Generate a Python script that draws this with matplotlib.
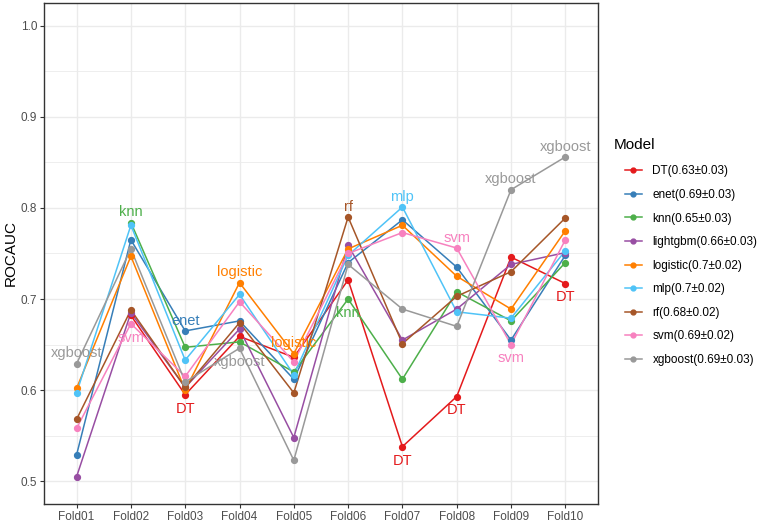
import numpy as np
import pandas as pd
import matplotlib
matplotlib.use("Agg")
import matplotlib.pyplot as plt

plt.rcParams['font.family'] = ['Liberation Sans', 'DejaVu Sans']

folds = ['Fold01', 'Fold02', 'Fold03', 'Fold04', 'Fold05',
         'Fold06', 'Fold07', 'Fold08', 'Fold09', 'Fold10']

models = ['DT', 'enet', 'knn', 'lightgbm', 'logistic', 'mlp', 'rf', 'svm', 'xgboost']

# ROC AUC per fold (Fold01 of DT and knn fall below the 0.5 axis limit)
DT       = [0.413, 0.682, 0.595, 0.659, 0.636, 0.721, 0.538, 0.593, 0.746, 0.717]
enet     = [0.529, 0.765, 0.665, 0.676, 0.612, 0.740, 0.787, 0.735, 0.655, 0.748]
knn      = [0.360, 0.784, 0.647, 0.653, 0.620, 0.700, 0.612, 0.708, 0.676, 0.740]
lightgbm = [0.505, 0.685, 0.603, 0.667, 0.548, 0.759, 0.655, 0.689, 0.738, 0.751]
logistic = [0.602, 0.747, 0.600, 0.718, 0.640, 0.755, 0.781, 0.725, 0.689, 0.775]
mlp      = [0.597, 0.781, 0.633, 0.705, 0.617, 0.748, 0.801, 0.686, 0.679, 0.753]
rf       = [0.568, 0.688, 0.603, 0.674, 0.597, 0.790, 0.651, 0.703, 0.730, 0.789]
svm      = [0.558, 0.673, 0.615, 0.697, 0.631, 0.750, 0.773, 0.756, 0.650, 0.765]
xgboost  = [0.629, 0.755, 0.609, 0.646, 0.523, 0.738, 0.689, 0.670, 0.820, 0.856]

legend_labels = ['DT(0.63±0.03)', 'enet(0.69±0.03)', 'knn(0.65±0.03)',
                 'lightgbm(0.66±0.03)', 'logistic(0.7±0.02)', 'mlp(0.7±0.02)',
                 'rf(0.68±0.02)', 'svm(0.69±0.02)', 'xgboost(0.69±0.03)']

colors = ['#E41A1C', '#377EB8', '#4DAF4A', '#984EA3', '#FF7F00',
          '#4FC3F7', '#A65628', '#F781BF', '#999999']

# folds whose lowest-model label is not shown
hidden_low = ['Fold05']

df = pd.DataFrame([DT, enet, knn, lightgbm, logistic, mlp, rf, svm, xgboost],
                  index=models, columns=folds)

ylo, yhi = 0.5, 1.0
shown = df.where((df >= ylo) & (df <= yhi))

fig = plt.figure(figsize=(7.64, 5.23), dpi=100)
ax = fig.add_axes([0.0576, 0.0363, 0.725, 0.958])

x = np.arange(len(folds))
handles = []
for m, c in zip(models, colors):
    ax.plot(x, shown.loc[m].values, color=c, lw=1.1, zorder=2)
for m, c, lab in zip(models, colors, legend_labels):
    ax.plot(x, shown.loc[m].values, 'o', color=c, ms=4.2, zorder=3)
    h, = ax.plot([], [], color=c, lw=1.1, marker='o', ms=3.5, label=lab)
    handles.append(h)

# label best and worst model of every fold
for j, f in enumerate(folds):
    col = df[f]
    hi = col.idxmax()
    lo = col.idxmin()
    ax.annotate(hi, (j, col[hi]), xytext=(0, 7.5), textcoords='offset points',
                ha='center', va='center', fontsize=10.5,
                color=colors[models.index(hi)], zorder=4)
    if col[lo] >= ylo and f not in hidden_low:
        ax.annotate(lo, (j, col[lo]), xytext=(0, -10), textcoords='offset points',
                    ha='center', va='center', fontsize=10.5,
                    color=colors[models.index(lo)], zorder=4)

ax.set_xlim(-0.6, len(folds) - 0.4)
ax.set_ylim(0.475, 1.025)
ax.set_xticks(x)
ax.set_xticklabels(folds)
ax.set_yticks([0.5, 0.6, 0.7, 0.8, 0.9, 1.0])
ax.set_yticklabels(['0.5', '0.6', '0.7', '0.8', '0.9', '1.0'])
ax.set_yticks([0.55, 0.65, 0.75, 0.85, 0.95], minor=True)
ax.grid(True, which='major', color='#EBEBEB', lw=1.0, zorder=0)
ax.grid(True, which='minor', axis='y', color='#EBEBEB', lw=0.6, zorder=0)
ax.set_axisbelow(True)
ax.tick_params(axis='both', which='major', labelsize=8.5, labelcolor='#4D4D4D',
               color='#333333', length=3, width=0.8, pad=2)
ax.tick_params(axis='y', which='minor', length=0)
for s in ax.spines.values():
    s.set_color('#333333')
    s.set_linewidth(1.0)
ax.set_ylabel('ROCAUC', fontsize=11, labelpad=2)

fig.text(614 / 764, 1 - 145 / 523, 'Model', fontsize=11, ha='left', va='center')
fig.legend(handles=handles, loc='upper left',
           bbox_to_anchor=(614 / 764, 0.704), frameon=False, fontsize=8.5,
           handlelength=1.5, handletextpad=0.85, labelspacing=0.98)

fig.savefig('out.png', dpi=100)
